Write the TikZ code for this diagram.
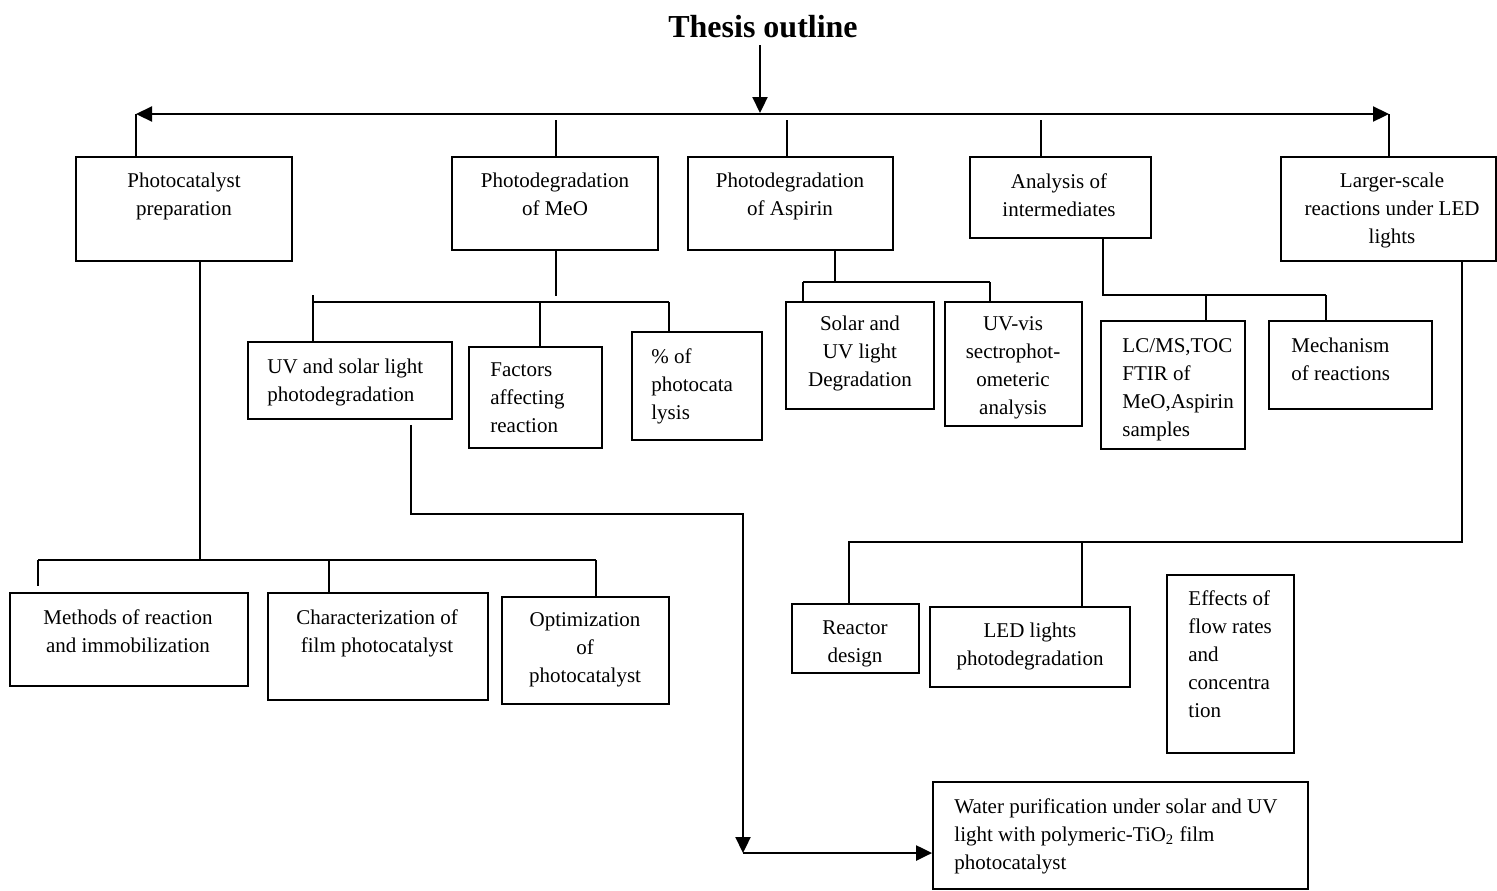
\documentclass[tikz,border=0pt]{standalone}
\usepackage{fontspec}
\setmainfont{Liberation Serif}
\usetikzlibrary{arrows.meta, positioning, fit}

\begin{document}
\begin{tikzpicture}[x=0.5pt, y=-0.5pt,
  >={Triangle[length=8pt, width=7.5pt]},
  outbox/.style={draw=black, line width=0.9pt, inner sep=0pt},
  boxtext/.style={inner sep=0pt, align=center, anchor=north, font=\fontsize{10.5}{14}\selectfont},
  boxtextl/.style={boxtext, align=left, anchor=north west},
  lnk/.style={line width=0.8pt},
  arr/.style={line width=1.1pt, ->}]
\useasboundingbox (0,0) rectangle (1497,890);

\node [font=\fontsize{16}{19}\selectfont\bfseries] (title) at (763,27) {Thesis outline};

\node [outbox, fit={(76,157) (292,261)}] (prep) {};
\node [boxtext] (tprep) at (184,173) {Photocatalyst\\preparation};
\node [outbox, fit={(452,157) (658,250)}] (meo) {};
\node [boxtext] (tmeo) at (555,173) {Photodegradation\\of MeO};
\node [outbox, fit={(688,157) (893,250)}] (asp) {};
\node [boxtext] (tasp) at (790,173) {Photodegradation\\of Aspirin};
\node [outbox, fit={(970,157) (1151,238)}] (inter) {};
\node [boxtext] (tinter) at (1059,173) {Analysis of\\intermediates};
\node [outbox, fit={(1281,157) (1496,261)}] (larger) {};
\node [boxtext] (tlarger) at (1392,173) {Larger-scale\\reactions under LED\\lights};

\node [outbox, fit={(248,342) (452,419)}] (uvsol) {};
\node [boxtextl] (tuvsol) at (267,359) {UV and solar light\\photodegradation};
\node [outbox, fit={(469,347) (602,448)}] (factors) {};
\node [boxtextl] (tfactors) at (490,362) {Factors\\affecting\\reaction};
\node [outbox, fit={(632,332) (762,440)}] (percent) {};
\node [boxtextl] (tpercent) at (651,348) {\% of\\photocata\\lysis};
\node [outbox, fit={(786,302) (934,409)}] (solaruv) {};
\node [boxtext] (tsolaruv) at (860,316) {Solar and\\UV light\\Degradation};
\node [outbox, fit={(945,302) (1082,426)}] (uvvis) {};
\node [boxtext] (tuvvis) at (1013,316) {UV-vis\\sectrophot-\\ometeric\\analysis};
\node [outbox, fit={(1101,321) (1245,449)}] (lcms) {};
\node [boxtextl] (tlcms) at (1122,338) {LC/MS,TOC\\FTIR of\\MeO,Aspirin\\samples};
\node [outbox, fit={(1269,321) (1432,409)}] (mech) {};
\node [boxtextl] (tmech) at (1291,338) {Mechanism\\of reactions};

\node [outbox, fit={(10,593) (248,686)}] (methods) {};
\node [boxtext] (tmethods) at (128,609) {Methods of reaction\\and immobilization};
\node [outbox, fit={(268,593) (488,700)}] (charact) {};
\node [boxtext] (tcharact) at (377,609) {Characterization of\\film photocatalyst};
\node [outbox, fit={(502,597) (669,704)}] (optim) {};
\node [boxtext] (toptim) at (585,612) {Optimization\\of\\photocatalyst};

\node [outbox, fit={(792,604) (919,673)}] (reactor) {};
\node [boxtext] (treactor) at (855,620) {Reactor\\design};
\node [outbox, fit={(930,607) (1130,687)}] (ledphoto) {};
\node [boxtext] (tledphoto) at (1030,623) {LED lights\\photodegradation};
\node [outbox, fit={(1167,575) (1294,753)}] (effects) {};
\node [boxtextl] (teffects) at (1188,590) {Effects of\\flow rates\\and\\concentra\\tion};
\node [outbox, fit={(933,782) (1308,889)}] (water) {};
\node [boxtextl] (twater) at (954,798) {Water purification under solar and UV\\light with polymeric-TiO\textsubscript{2} film\\photocatalyst};

\coordinate (top) at (760,113);
\draw [arr] (title.south -| top) -- (top);
\coordinate (hl) at (136,114);
\coordinate (hr) at (1389,114);
\draw [arr, <->] (hl) -- (hr);
\draw [lnk] (hl) -- (hl |- prep.north);
\draw [lnk] (hr) -- (hr |- larger.north);
\coordinate (smeo) at (556,120);
\draw [lnk] (smeo) -- (smeo |- meo.north);
\coordinate (sasp) at (787,120);
\draw [lnk] (sasp) -- (sasp |- asp.north);
\coordinate (sint) at (1041,120);
\draw [lnk] (sint) -- (sint |- inter.north);

\coordinate (jprep) at (200,560);
\coordinate (jmeth) at (38,560);
\coordinate (jchar) at (329,560);
\coordinate (jopt) at (596,560);
\draw [lnk] (jprep |- prep.south) -- (jprep);
\draw [lnk] (jmeth) -- (jopt);
\draw [lnk] (jmeth) -- ++(0,26);
\draw [lnk] (jchar) -- (jchar |- charact.north);
\draw [lnk] (jopt) -- (jopt |- optim.north);

\coordinate (juv) at (313,302);
\coordinate (jfac) at (540,302);
\coordinate (jpct) at (669,302);
\draw [lnk] (smeo |- meo.south) -- ++(0,45);
\draw [lnk] (juv) -- (jpct);
\draw [lnk] (juv) ++(0,-7) -- (juv |- uvsol.north);
\draw [lnk] (jfac) -- (jfac |- factors.north);
\draw [lnk] (jpct) -- (jpct |- percent.north);

\coordinate (jasp) at (835,282);
\coordinate (jsol) at (803,282);
\coordinate (jvis) at (990,282);
\draw [lnk] (jasp |- asp.south) -- (jasp);
\draw [lnk] (jsol) -- (jvis);
\draw [lnk] (jsol) -- (jsol |- solaruv.north);
\draw [lnk] (jvis) -- (jvis |- uvvis.north);

\coordinate (jint) at (1103,295);
\coordinate (jlc) at (1206,295);
\coordinate (jmech) at (1326,295);
\draw [lnk] (jint |- inter.south) -- (jint) -- (jmech);
\draw [lnk] (jlc) -- (jlc |- lcms.north);
\draw [lnk] (jmech) -- (jmech |- mech.north);

\coordinate (jlar) at (1462,542);
\coordinate (jreac) at (849,542);
\coordinate (jled) at (1082,542);
\draw [lnk] (jlar |- larger.south) -- (jlar) -- (jreac) -- (jreac |- reactor.north);
\draw [lnk] (jled) -- (jled |- ledphoto.north);

\coordinate (wstart) at (411,514);
\coordinate (wturn) at (743,853);
\draw [arr] (wstart |- uvsol.south) ++(0,5) -- (wstart) -| (wturn);
\draw [arr] (wturn) -- (wturn -| water.west);
\end{tikzpicture}
\end{document}
